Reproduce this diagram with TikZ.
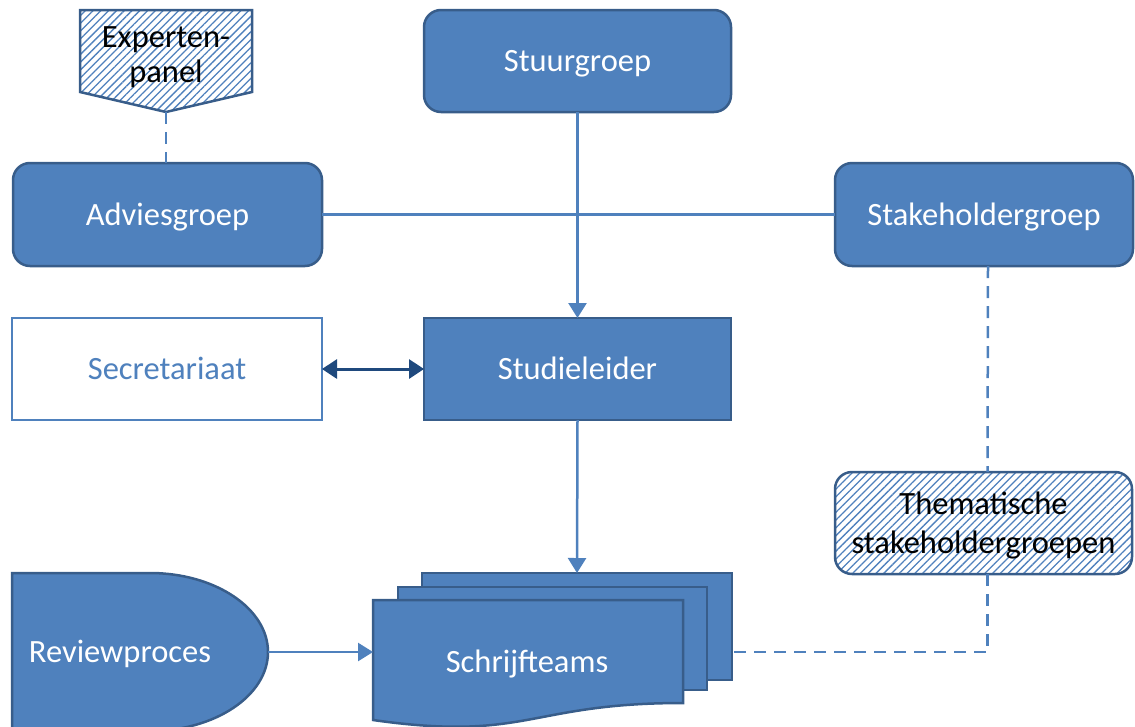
\documentclass[tikz,border=0pt]{standalone}
\usepackage{fontspec}
\setmainfont{Carlito}
\usetikzlibrary{arrows.meta,patterns.meta}
\definecolor{boxfill}{HTML}{4F81BD}
\definecolor{boxline}{HTML}{385D8A}
\definecolor{darkarrow}{HTML}{1F497D}

\begin{document}
\begin{tikzpicture}[x=1pt,y=-1pt,
  every node/.style={font=\fontsize{32.5}{39}\selectfont, inner sep=0pt, outer sep=0pt},
  oneline/.style={text height=21pt, text depth=0pt},
  box/.style={oneline, draw=boxline, line width=2.5pt, fill=boxfill, text=white,
    minimum width=#1, minimum height=102pt},
  box/.default=308pt,
  roundbox/.style={box=#1, rounded corners=17pt},
  roundbox/.default=308pt,
  hatch/.style={draw=boxline, line width=2.5pt,
    preaction={fill=white},
    pattern={Lines[angle=45, distance=5.5pt, line width=1.3pt]}, pattern color=boxfill},
  conn/.style={draw=boxfill, line width=2.5pt},
  dashconn/.style={conn, dash pattern=on 12pt off 8pt},
  arr/.style={conn, -{Triangle[length=15pt, width=18pt]}},
  dblarr/.style={draw=darkarrow, line width=3pt,
    {Triangle[length=15pt, width=19pt]}-{Triangle[length=15pt, width=19pt]}},
]
\useasboundingbox (0,0) rectangle (1135,726);

% main boxes
\node[roundbox=307pt] (stuur) at (577.5,61) {Stuurgroep};
\node[roundbox=309pt, minimum height=103pt] (advies) at (167.5,214.5) {Adviesgroep};
\node[roundbox=298pt, minimum height=103pt] (stake) at (984,214.5) {Stakeholdergroep};
\node[box=310pt, fill=white, draw=boxfill, text=boxfill] (secr) at (167,369) {Secretariaat};
\node[box=307pt] (leider) at (577.5,369) {Studieleider};

% hatched boxes
\node[roundbox=297pt, hatch, text=black] (them) at (983.5,523) {};
\node[align=center, text=black] (themtxt) at (983.5,526)
  {Thematische\\stakeholdergroepen};
\draw[hatch] (80,10) -- (252,10) -- (252,92) -- (166,112) -- (80,92) -- cycle;
\node[align=center, text=black, font=\fontsize{32.5}{35}\selectfont] (expert) at (166,57) {Experten-\\panel};
\coordinate (experttip) at (166,112);

% stacked documents
\node[box=310pt, minimum height=107pt, anchor=north west] (back) at (422,573) {};
\node[box=309pt, minimum height=103pt, anchor=north west] (mid) at (398,587) {};
\node[minimum width=310pt, minimum height=128pt, anchor=north west] (front) at (373,600) {};
\draw[draw=boxline, line width=2.5pt, fill=boxfill]
  (front.north west) -- (front.north east) -- ([yshift=25pt]front.south east)
  .. controls (528,703) and (528,742) .. ([yshift=8pt]front.south west) -- cycle;
\node[oneline, text=white] (schrijf) at (527,662) {Schrijfteams};

% review process (delay shape)
\draw[draw=boxline, line width=2.5pt, fill=boxfill]
  (12,573) -- (150,573) .. controls (215,573) and (268,608.4) .. (268,652)
  .. controls (268,695.6) and (215,731) .. (150,731) -- (12,731) -- cycle;
\coordinate (review) at (268,652);
\node[oneline, text=white] (reviewtxt) at (120,652) {Reviewproces};

% connectors
\draw[conn] (advies.east) -- (stake.west);
\draw[arr] (stuur.south) -- (leider.north);
\draw[arr] (leider.south) -- (back.north);
\draw[dblarr] (secr.east) -- (leider.west);
\draw[arr] (review) -- (review -| front.west);
\draw[dashconn] (experttip) -- (advies.north -| experttip);
\draw[dashconn] ([xshift=4pt]stake.south) -- ([xshift=4pt]them.north);
\draw[dashconn] ([xshift=4pt]them.south) -- ([xshift=4pt]them.south |- review)
  -- (back.east |- review);
\end{tikzpicture}
\end{document}
